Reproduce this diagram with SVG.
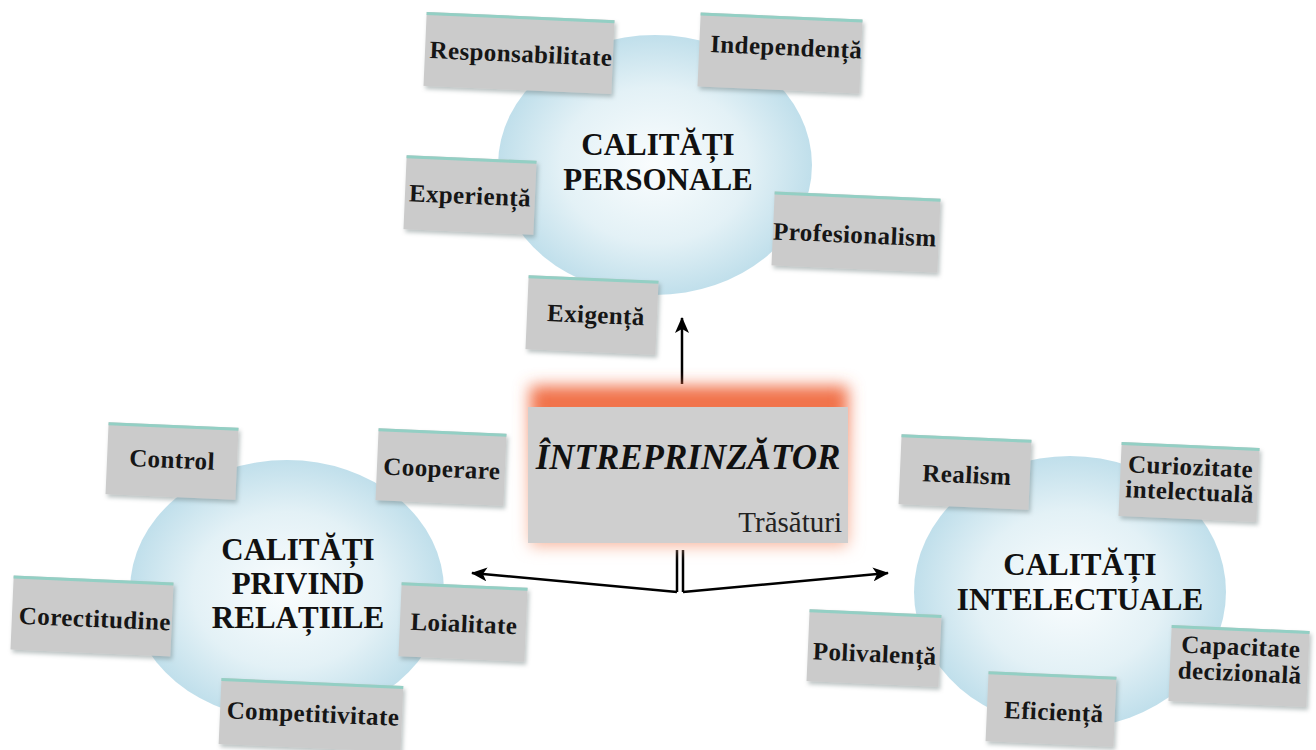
<svg xmlns="http://www.w3.org/2000/svg" width="1316" height="750" viewBox="0 0 1316 750">
<defs>
<radialGradient id="bubble" cx="50%" cy="50%" r="50%">
<stop offset="0%" stop-color="#fafdfe"/>
<stop offset="60%" stop-color="#e3f1f6"/>
<stop offset="100%" stop-color="#c0dfeb"/>
</radialGradient>
<filter id="shadow" x="-10%" y="-10%" width="125%" height="130%">
<feDropShadow dx="2" dy="3" stdDeviation="2" flood-color="#6a7a7a" flood-opacity="0.45"/>
</filter>
<filter id="glow" x="-20%" y="-30%" width="140%" height="160%">
<feGaussianBlur stdDeviation="8"/>
</filter>
<linearGradient id="glowfill" x1="0" y1="0" x2="0" y2="1">
<stop offset="0%" stop-color="#f06a40"/>
<stop offset="40%" stop-color="#f48a66"/>
<stop offset="100%" stop-color="#f7b79f"/>
</linearGradient>
<marker id="arr" viewBox="0 0 16 14" refX="15" refY="7" markerWidth="16" markerHeight="14" markerUnits="userSpaceOnUse" orient="auto">
<path d="M0,0 L16,7 L0,14 L4,7 Z" fill="#000"/>
</marker>
</defs>
<style>
.bub{fill:url(#bubble)}
.box{fill:#cbcbcb;filter:url(#shadow)}
.edge{fill:#93cfc4}
.lbl{font-family:"Liberation Serif","Times New Roman",serif;font-weight:bold;font-size:25px;letter-spacing:0.4px;fill:#161616;text-anchor:middle}
.big{font-family:"Liberation Serif","Times New Roman",serif;font-weight:bold;font-size:31px;fill:#111;text-anchor:middle}
.title{font-family:"Liberation Serif","Times New Roman",serif;font-weight:bold;font-style:italic;font-size:35px;fill:#111;text-anchor:middle}
.sub{font-family:"Liberation Serif","Times New Roman",serif;font-size:29px;fill:#222;text-anchor:end}
.con{stroke:#000;stroke-width:2.5;fill:none}
</style>
<rect width="1316" height="750" fill="#fff"/>

<!-- bubbles -->
<g id="personale">
<ellipse class="bub" cx="655" cy="165" rx="157" ry="130"/>
<text class="big" x="658" y="155">CALITĂȚI</text>
<text class="big" x="658" y="190">PERSONALE</text>
</g>
<g id="relatii">
<ellipse class="bub" cx="287" cy="590" rx="157" ry="130"/>
<text class="big" x="298" y="560">CALITĂȚI</text>
<text class="big" x="298" y="594">PRIVIND</text>
<text class="big" x="298" y="628">RELAȚIILE</text>
</g>
<g id="intelectuale">
<ellipse class="bub" cx="1070" cy="592" rx="156" ry="136"/>
<text class="big" x="1080" y="575">CALITĂȚI</text>
<text class="big" x="1080" y="610">INTELECTUALE</text>
</g>

<!-- connectors -->
<g id="connectors">
<line class="con" x1="682" y1="384" x2="682" y2="318" marker-end="url(#arr)"/>
<line class="con" x1="677" y1="550" x2="677" y2="592"/>
<line class="con" x1="683" y1="550" x2="683" y2="592"/>
<line class="con" x1="677" y1="592" x2="472" y2="573" marker-end="url(#arr)"/>
<line class="con" x1="683" y1="592" x2="888" y2="573" marker-end="url(#arr)"/>
</g>

<!-- central node -->
<g id="intreprinzator">
<rect x="530" y="386" width="318" height="160" fill="url(#glowfill)" filter="url(#glow)"/>
<rect x="528" y="407" width="320" height="136" fill="#cfcfcf"/>
<text class="title" x="688" y="469">ÎNTREPRINZĂTOR</text>
<text class="sub" x="842" y="532">Trăsături</text>
</g>

<!-- top boxes -->
<g id="responsabilitate" transform="rotate(2.5 519 53)">
<rect class="box" x="425" y="16" width="188" height="74"/>
<rect class="edge" x="425" y="16" width="188" height="3"/>
<text class="lbl" x="521" y="62">Responsabilitate</text>
</g>
<g id="independenta" transform="rotate(2.5 780 53)">
<rect class="box" x="699" y="16" width="162" height="74"/>
<rect class="edge" x="699" y="16" width="162" height="3"/>
<text class="lbl" x="786" y="55">Independență</text>
</g>
<g id="experienta" transform="rotate(2.5 470 195)">
<rect class="box" x="405" y="158" width="130" height="74"/>
<rect class="edge" x="405" y="158" width="130" height="3"/>
<text class="lbl" x="470" y="204">Experiență</text>
</g>
<g id="profesionalism" transform="rotate(2.5 856 232)">
<rect class="box" x="773" y="195" width="166" height="74"/>
<rect class="edge" x="773" y="195" width="166" height="3"/>
<text class="lbl" x="855" y="243">Profesionalism</text>
</g>
<g id="exigenta" transform="rotate(2.5 592 315)">
<rect class="box" x="527" y="278" width="130" height="74"/>
<rect class="edge" x="527" y="278" width="130" height="3"/>
<text class="lbl" x="596" y="323">Exigență</text>
</g>

<!-- left boxes -->
<g id="control" transform="rotate(2.5 172 461)">
<rect class="box" x="107" y="425" width="130" height="72"/>
<rect class="edge" x="107" y="425" width="130" height="3"/>
<text class="lbl" x="172" y="468">Control</text>
</g>
<g id="cooperare" transform="rotate(2.5 441 467)">
<rect class="box" x="377" y="431" width="128" height="72"/>
<rect class="edge" x="377" y="431" width="128" height="3"/>
<text class="lbl" x="442" y="477">Cooperare</text>
</g>
<g id="corectitudine" transform="rotate(2.5 92 616)">
<rect class="box" x="12" y="579" width="160" height="74"/>
<rect class="edge" x="12" y="579" width="160" height="3"/>
<text class="lbl" x="95" y="627">Corectitudine</text>
</g>
<g id="loialitate" transform="rotate(2.5 463 622)">
<rect class="box" x="400" y="585" width="126" height="74"/>
<rect class="edge" x="400" y="585" width="126" height="3"/>
<text class="lbl" x="464" y="632">Loialitate</text>
</g>
<g id="competitivitate" transform="rotate(2.5 311 714)">
<rect class="box" x="220" y="682" width="182" height="66"/>
<rect class="edge" x="220" y="682" width="182" height="3"/>
<text class="lbl" x="313" y="722">Competitivitate</text>
</g>

<!-- right boxes -->
<g id="realism" transform="rotate(2.5 965 472)">
<rect class="box" x="900" y="437" width="130" height="70"/>
<rect class="edge" x="900" y="437" width="130" height="3"/>
<text class="lbl" x="967" y="483">Realism</text>
</g>
<g id="curiozitate" transform="rotate(2.5 1189 482)">
<rect class="box" x="1120" y="445" width="138" height="74"/>
<rect class="edge" x="1120" y="445" width="138" height="3"/>
<text class="lbl" x="1190" y="475">Curiozitate</text>
<text class="lbl" x="1190" y="500">intelectuală</text>
</g>
<g id="polivalenta" transform="rotate(2.5 874 648)">
<rect class="box" x="808" y="612" width="132" height="72"/>
<rect class="edge" x="808" y="612" width="132" height="3"/>
<text class="lbl" x="875" y="662">Polivalență</text>
</g>
<g id="capacitate" transform="rotate(2.5 1239 666)">
<rect class="box" x="1170" y="628" width="138" height="76"/>
<rect class="edge" x="1170" y="628" width="138" height="3"/>
<text class="lbl" x="1240" y="655">Capacitate</text>
<text class="lbl" x="1240" y="681">decizională</text>
</g>
<g id="eficienta" transform="rotate(2.5 1051 709)">
<rect class="box" x="987" y="674" width="128" height="70"/>
<rect class="edge" x="987" y="674" width="128" height="3"/>
<text class="lbl" x="1054" y="720">Eficiență</text>
</g>
</svg>
